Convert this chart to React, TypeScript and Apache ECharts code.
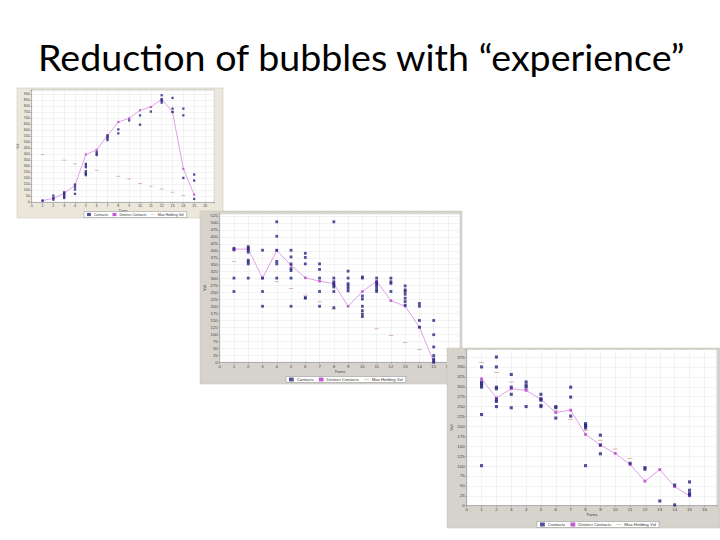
import React, { useEffect, useRef } from "react";
import * as echarts from "echarts";

const titleText = "Reduction of bubbles with “experience”";
const seriesNames = ["Contacts", "Distinct Contacts", "Max Holding Vol"];
const xAxisName = "Turns";
const yAxisName = "Vol";
const turns = [1, 2, 3, 4, 5, 6, 7, 8, 9, 10, 11, 12, 13, 14, 15];

// Chart 1 (top left)
const c1Distinct = [14, 33, 75, 142, 398, 437, 557, 669, 699, 766, 794, 858, 752, 279, 64];
const c1Contacts = [
  [1, 14],
  [2, 56], [2, 36], [2, 22],
  [3, 84], [3, 70], [3, 58], [3, 47], [3, 36],
  [4, 148], [4, 125], [4, 106], [4, 70],
  [5, 320], [5, 306], [5, 292], [5, 259], [5, 245], [5, 237], [5, 226],
  [6, 418], [6, 404], [6, 393],
  [7, 557], [7, 543], [7, 532], [7, 518],
  [8, 607], [8, 574],
  [9, 682],
  [10, 724], [10, 646],
  [11, 755],
  [12, 891], [12, 858], [12, 844], [12, 830],
  [13, 869], [13, 780], [13, 752],
  [14, 780], [14, 724], [14, 203],
  [15, 231], [15, 181], [15, 28],
];
const c1MaxHold = [
  [1, 398], [3, 351], [4, 320], [6, 267], [8, 217], [9, 195],
  [10, 156], [11, 134], [12, 111], [13, 84], [14, 58],
];

// Chart 2 (middle)
const c2Distinct = [406, 406, 302, 401, 348, 303, 291, 282, 201, 254, 291, 221, 201, 126, 2];
const c2Contacts = [
  [1, 409], [1, 403], [1, 302], [1, 254],
  [2, 415], [2, 409], [2, 403], [2, 395], [2, 366], [2, 360], [2, 353], [2, 302],
  [3, 402], [3, 302], [3, 254], [3, 201],
  [4, 504], [4, 452], [4, 402], [4, 362], [4, 353], [4, 302],
  [5, 402], [5, 378], [5, 353], [5, 336], [5, 329], [5, 302], [5, 201],
  [6, 391], [6, 376], [6, 353], [6, 232], [6, 230],
  [7, 353], [7, 333], [7, 302], [7, 254], [7, 201],
  [8, 504], [8, 302], [8, 289], [8, 282], [8, 276], [8, 270], [8, 254], [8, 196],
  [9, 327], [9, 302], [9, 282], [9, 274], [9, 265], [9, 256],
  [10, 306], [10, 302], [10, 238], [10, 227], [10, 201], [10, 185], [10, 173], [10, 164],
  [11, 302], [11, 288], [11, 282], [11, 277], [11, 270], [11, 261], [11, 254],
  [12, 302], [12, 289], [12, 283], [12, 254],
  [13, 274], [13, 260], [13, 254], [13, 244], [13, 230], [13, 218], [13, 205],
  [14, 211], [14, 201], [14, 150], [14, 126],
  [15, 150], [15, 99], [15, 55], [15, 24], [15, 12], [15, 6], [15, 0],
];
const c2MaxHold = [
  [1, 362], [4, 289], [5, 265], [6, 241], [7, 217], [8, 191],
  [11, 120], [12, 96], [13, 71], [14, 46],
];

// Chart 3 (bottom right)
const c3Distinct = [320, 272, 295, 291, 268, 235, 241, 180, 153, 132, 104, 62, 91, 48, 25];
const c3Contacts = [
  [1, 350], [1, 312], [1, 308], [1, 304], [1, 299], [1, 230], [1, 101],
  [2, 375], [2, 350], [2, 299], [2, 295], [2, 268], [2, 263], [2, 250],
  [3, 331], [3, 299], [3, 281], [3, 247],
  [4, 312], [4, 304], [4, 299], [4, 250],
  [5, 281], [5, 270], [5, 266], [5, 253], [5, 250],
  [6, 250], [6, 247], [6, 221],
  [7, 299], [7, 274], [7, 226],
  [8, 207], [8, 203], [8, 201], [8, 196], [8, 101],
  [9, 178], [9, 153], [9, 131],
  [11, 107],
  [12, 96], [12, 92],
  [13, 12],
  [14, 52], [14, 2],
  [15, 60], [15, 39], [15, 31], [15, 27],
];
const c3MaxHold = [
  [1, 361], [2, 336], [3, 312], [4, 293], [6, 239], [7, 217],
  [8, 190], [9, 165], [10, 143], [11, 119],
];

const yMaxes = [935, 533, 394];
const ySteps = [50, 25, 25];

// Layout / styling (not data)
const panels = [
  {
    frame: [17, 88, 206, 130], frameColor: "#ebe7da",
    grid: { left: 31.7, top: 90, width: 182.5, height: 112.3 },
    legend: { left: 84, top: 211.5 }, font: 3.6, sym: 2.3, nameGap: 6, yNameGap: 10,
  },
  {
    frame: [200, 211, 262, 173], frameColor: "#d6d3cc",
    grid: { left: 219.7, top: 213.7, width: 240.4, height: 148.6 },
    legend: { left: 286, top: 376.5 }, font: 4.3, sym: 2.8, nameGap: 7, yNameGap: 12,
  },
  {
    frame: [447, 348, 273, 180], frameColor: "#d6d3cc",
    grid: { left: 466.7, top: 349.5, width: 251.6, height: 156.2 },
    legend: { left: 537, top: 521.5 }, font: 4.4, sym: 3.1, nameGap: 7, yNameGap: 13,
  },
];

const dataSets = [
  { contacts: c1Contacts, distinct: c1Distinct, maxHold: c1MaxHold },
  { contacts: c2Contacts, distinct: c2Distinct, maxHold: c2MaxHold },
  { contacts: c3Contacts, distinct: c3Distinct, maxHold: c3MaxHold },
];

function buildOption() {
  const grid: any[] = [];
  const xAxis: any[] = [];
  const yAxis: any[] = [];
  const series: any[] = [];
  const legend: any[] = [];
  const graphics: any[] = [];

  panels.forEach((p, i) => {
    const b = i * 10;
    const d = dataSets[i];
    graphics.push({
      type: "rect",
      z: b,
      shape: { x: p.frame[0], y: p.frame[1], width: p.frame[2], height: p.frame[3] },
      style: { fill: p.frameColor, stroke: "#c4c0b6", lineWidth: 0.5 },
    });
    grid.push({
      ...p.grid,
      show: true,
      backgroundColor: "#ffffff",
      borderColor: "#a0a0a0",
      borderWidth: 0.5,
      z: b + 1,
    });
    xAxis.push({
      type: "value",
      gridIndex: i,
      min: 0,
      max: 16.85,
      interval: 1,
      z: b + 2,
      name: xAxisName,
      nameLocation: "middle",
      nameGap: p.nameGap,
      nameTextStyle: { fontSize: p.font, color: "#333" },
      axisLine: { show: true, lineStyle: { color: "#888", width: 0.5 } },
      axisTick: { show: true, length: 1.5, lineStyle: { color: "#888", width: 0.5 } },
      axisLabel: {
        fontSize: p.font, color: "#444", margin: 2,
        formatter: (v: number) => (Number.isInteger(v) ? String(v) : ""),
      },
      splitLine: { show: true, lineStyle: { color: "#e6e6e6", width: 0.5 } },
    });
    const step = ySteps[i];
    yAxis.push({
      type: "value",
      gridIndex: i,
      min: 0,
      max: yMaxes[i],
      interval: step,
      z: b + 2,
      name: yAxisName,
      nameLocation: "middle",
      nameGap: p.yNameGap,
      nameRotate: 90,
      nameTextStyle: { fontSize: p.font, color: "#333" },
      axisLine: { show: true, lineStyle: { color: "#888", width: 0.5 } },
      axisTick: { show: true, length: 1.5, lineStyle: { color: "#888", width: 0.5 } },
      axisLabel: {
        fontSize: p.font, color: "#444", margin: 2,
        formatter: (v: number) => (v % step === 0 ? String(v) : ""),
      },
      splitLine: { show: true, lineStyle: { color: "#e6e6e6", width: 0.5 } },
    });
    series.push({
      name: seriesNames[2],
      type: "scatter",
      xAxisIndex: i,
      yAxisIndex: i,
      z: b + 3,
      symbol: "rect",
      symbolSize: [p.sym * 1.6, 0.8],
      itemStyle: { color: "#c9927c" },
      data: d.maxHold,
    });
    series.push({
      name: seriesNames[1],
      type: "line",
      xAxisIndex: i,
      yAxisIndex: i,
      z: b + 4,
      symbol: "rect",
      symbolSize: p.sym * 0.9,
      lineStyle: { color: "#d888e2", width: 0.8 },
      itemStyle: { color: "#c45ad2" },
      data: turns.map((t, k) => [t, d.distinct[k]]),
    });
    series.push({
      name: seriesNames[0],
      type: "scatter",
      xAxisIndex: i,
      yAxisIndex: i,
      z: b + 5,
      symbol: "rect",
      symbolSize: p.sym,
      itemStyle: { color: "#262680" },
      data: d.contacts,
    });
    legend.push({
      ...p.legend,
      z: b + 6,
      orient: "horizontal",
      backgroundColor: "#ffffff",
      borderColor: "#8a8a8a",
      borderWidth: 0.5,
      padding: [1, 3, 1, 3],
      itemWidth: p.font * 1.1,
      itemHeight: p.font * 0.9,
      itemGap: p.font * 1.2,
      textStyle: { fontSize: p.font, color: "#333", padding: [0, 0, 0, -2] },
      data: [
        { name: seriesNames[0], icon: "rect" },
        { name: seriesNames[1], icon: "rect" },
        { name: seriesNames[2], icon: "path://M0,4h12v1.5h-12z" },
      ],
    });
  });

  return {
    animation: false,
    backgroundColor: "#ffffff",
    title: {
      text: titleText,
      left: 33,
      top: 32.5,
      textStyle: { fontFamily: "Lato", fontWeight: "normal", fontSize: 37.6, color: "#000" },
    },
    graphic: { elements: graphics },
    grid,
    xAxis,
    yAxis,
    series,
    legend,
  };
}

export default function App() {
  const ref = useRef<HTMLDivElement>(null);
  useEffect(() => {
    const chart = echarts.init(ref.current!, null, { renderer: "svg" });
    chart.setOption(buildOption() as any);
    return () => chart.dispose();
  }, []);
  return (
    <div
      ref={ref}
      style={{ position: "fixed", left: 0, top: 0, width: 720, height: 540, background: "#fff" }}
    />
  );
}
